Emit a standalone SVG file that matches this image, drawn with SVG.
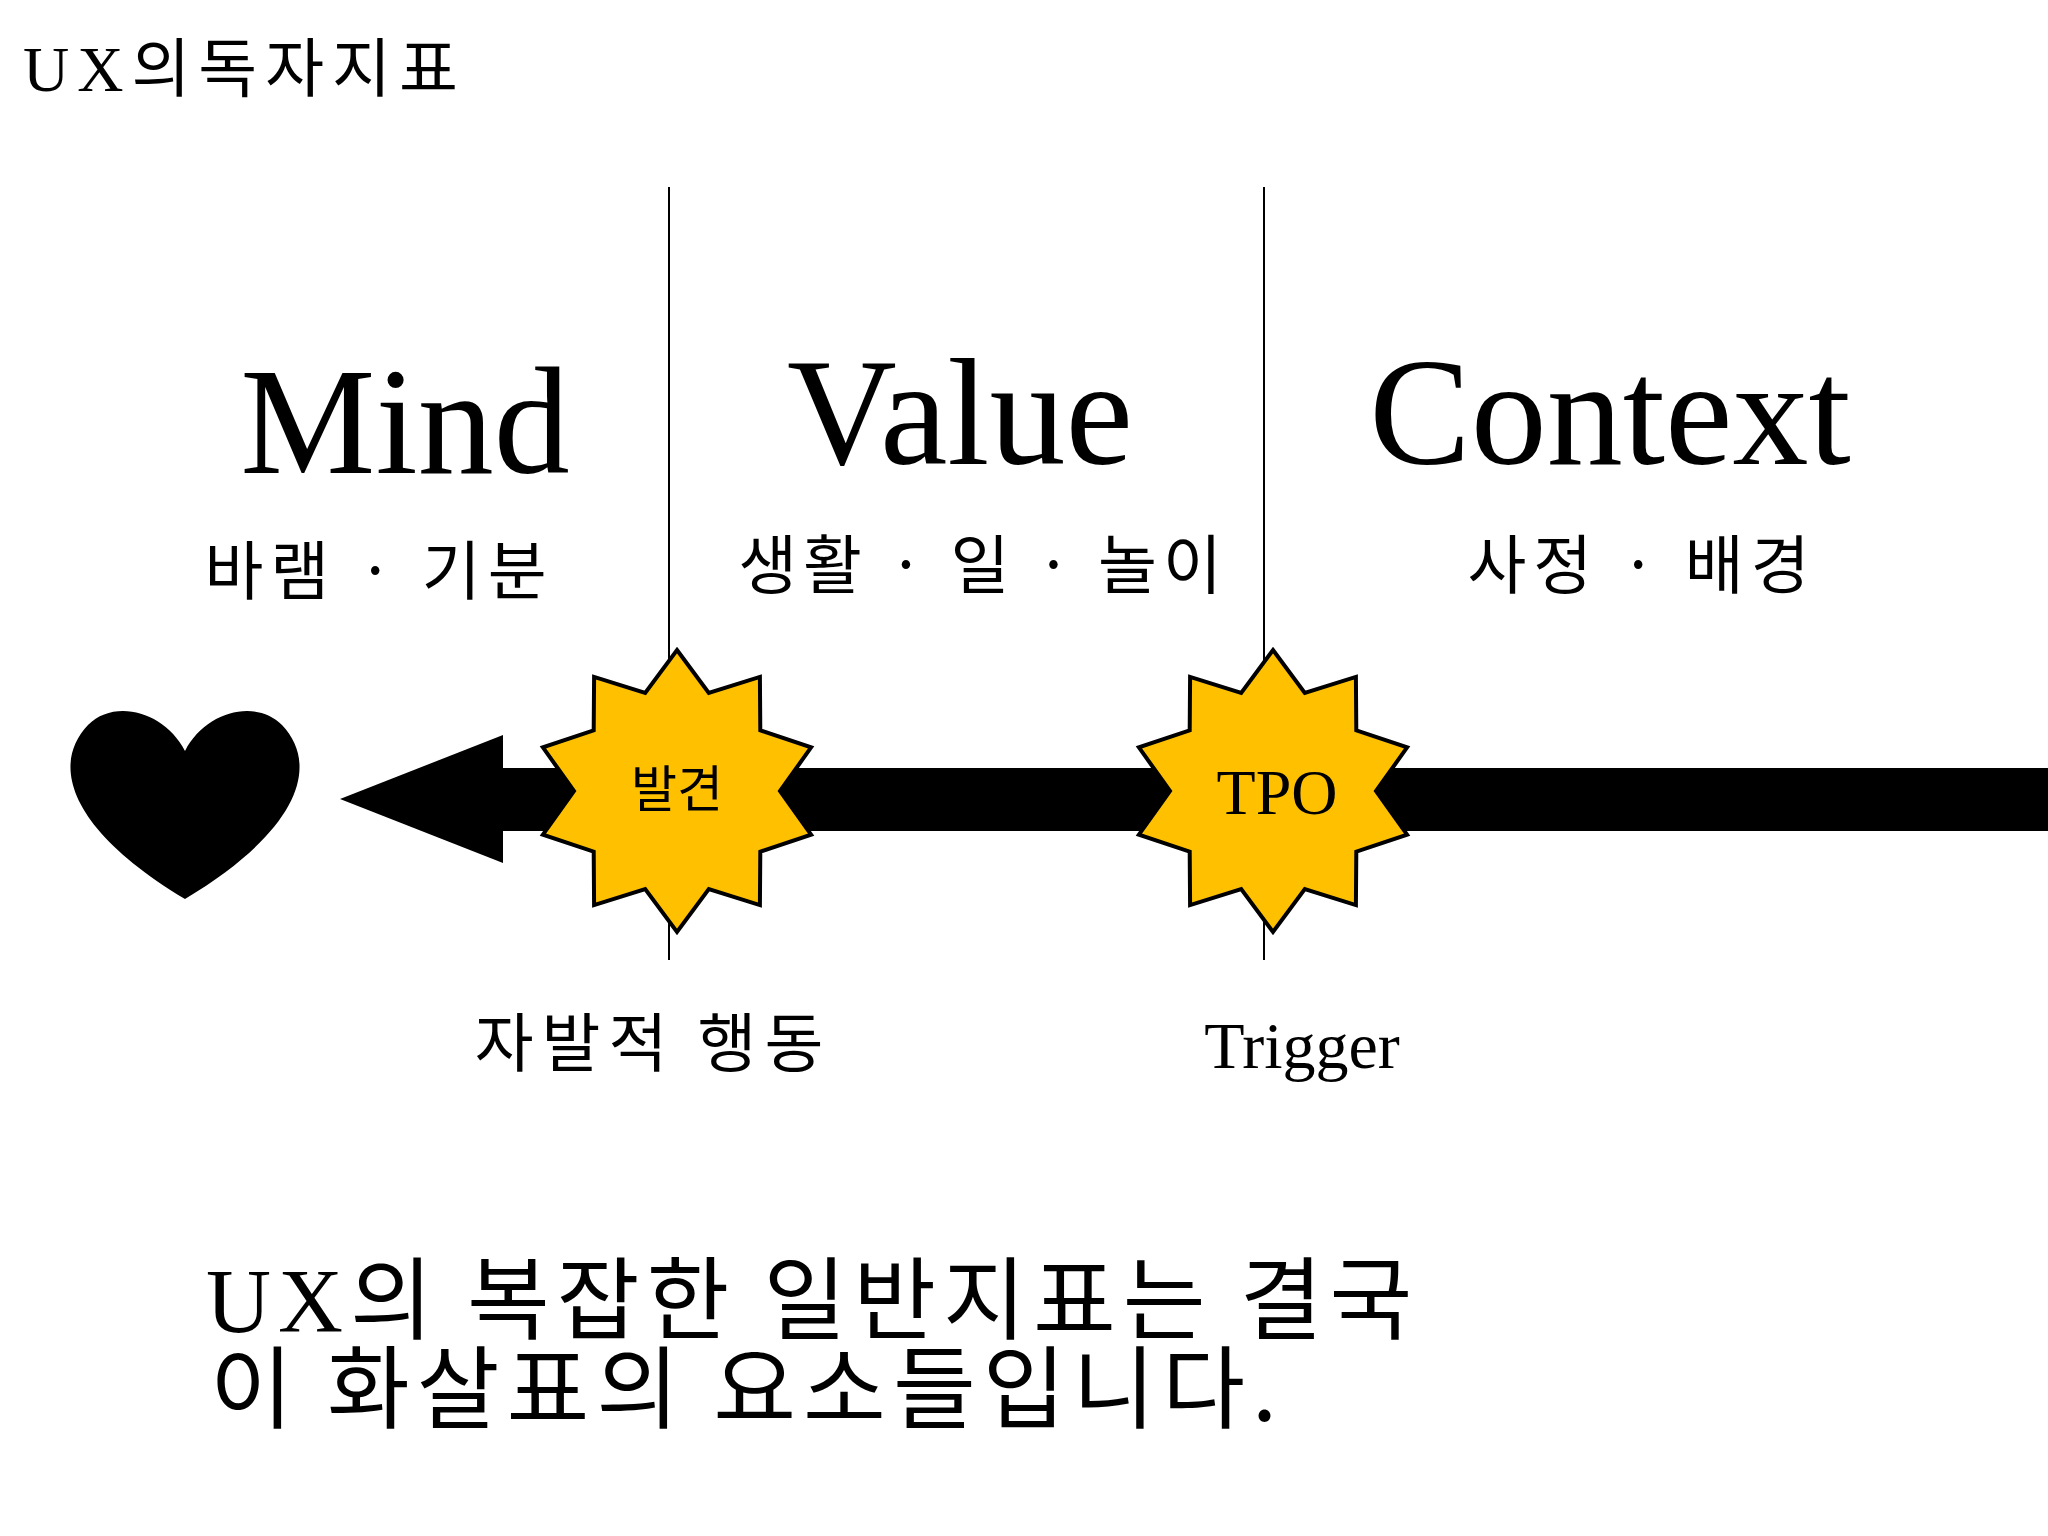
<svg xmlns="http://www.w3.org/2000/svg" width="2048" height="1536" viewBox="0 0 2048 1536">
<style>
.s{font-family:"Liberation Serif","Noto Sans CJK KR",serif;fill:#000}
.k{font-family:"Noto Sans CJK KR","Noto Sans",sans-serif;fill:#000}
.star{fill:#FFC000;stroke:#000;stroke-width:4;stroke-linejoin:miter}
</style>
<defs>
<polygon id="star" points="0,-141 31.8,-98 82.9,-114.1 83.3,-60.6 134.1,-43.6 103,0 134.1,43.6 83.3,60.6 82.9,114.1 31.8,98 0,141 -31.8,98 -82.9,114.1 -83.3,60.6 -134.1,43.6 -103,0 -134.1,-43.6 -83.3,-60.6 -82.9,-114.1 -31.8,-98"/>
</defs>
<rect width="2048" height="1536" fill="#fff"/>
<text class="s" x="23" y="91" font-size="64" letter-spacing="8">UX의독자지표</text>
<g id="connectors">
<line x1="669" y1="187" x2="669" y2="960" stroke="#000" stroke-width="2"/>
<line x1="1264" y1="187" x2="1264" y2="960" stroke="#000" stroke-width="2"/>
<rect x="500" y="768" width="1548" height="63" fill="#000"/>
<polygon points="340,799 503,735 503,863" fill="#000"/>
</g>
<g id="heart"><path d="M185,751 C165,712 115,698 88,725 C50,765 70,830 185,899 C300,830 320,765 282,725 C255,698 205,712 185,751 Z" fill="#000"/></g>
<g id="mind"><text class="s" x="405" y="473" font-size="152" text-anchor="middle">Mind</text>
<text class="k" x="379" y="594" font-size="64" letter-spacing="7" text-anchor="middle">바램 · 기분</text></g>
<g id="value"><text class="s" x="960" y="464" font-size="152" text-anchor="middle">Value</text>
<text class="k" x="983" y="588" font-size="64" letter-spacing="6" text-anchor="middle">생활 · 일 · 놀이</text></g>
<g id="context"><text class="s" x="1610" y="464" font-size="152" text-anchor="middle">Context</text>
<text class="k" x="1642" y="588" font-size="64" letter-spacing="7" text-anchor="middle">사정 · 배경</text></g>
<g id="star1"><use href="#star" x="677" y="791" class="star"/>
<text class="k" x="677" y="807" font-size="50" text-anchor="middle">발견</text></g>
<g id="star2"><use href="#star" x="1273" y="791" class="star"/>
<text class="s" x="1277" y="814" font-size="64" text-anchor="middle">TPO</text></g>
<text class="k" x="653" y="1066" font-size="64" letter-spacing="8" text-anchor="middle">자발적 행동</text>
<text class="s" x="1302" y="1068" font-size="66" text-anchor="middle">Trigger</text>
<text class="s" x="206" y="1332" font-size="90" letter-spacing="7">UX<tspan class="k">의 복잡한 일반지표는 결국</tspan></text>
<text class="k" x="210" y="1421" font-size="90" letter-spacing="7">이 화살표의 요소들입니다.</text>
</svg>
